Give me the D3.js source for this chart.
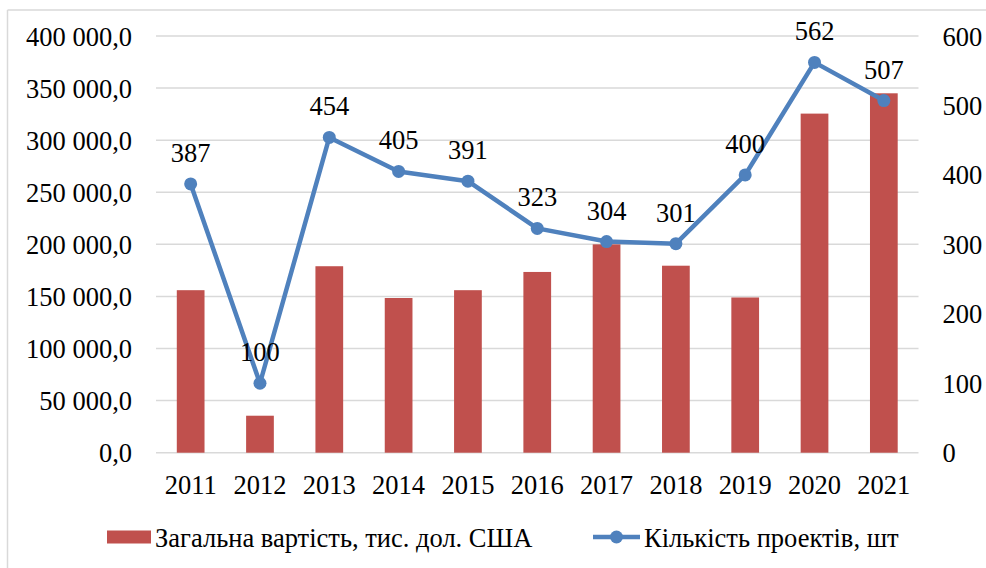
<!DOCTYPE html>
<html>
<head>
<meta charset="utf-8">
<script src="https://cdn.jsdelivr.net/npm/d3@7"></script>
<style>
  body { margin: 0; background: #fff; }
</style>
</head>
<body>
<script>
var years = ["2011", "2012", "2013", "2014", "2015", "2016", "2017", "2018", "2019", "2020", "2021"];
var totalCost = [156000, 35500, 179000, 148500, 156000, 173500, 200000, 179500, 149000, 325500, 345000];
var projects = [387, 100, 454, 405, 391, 323, 304, 301, 400, 562, 507];
var leftTicks = [0, 50000, 100000, 150000, 200000, 250000, 300000, 350000, 400000];
var rightTicks = [0, 100, 200, 300, 400, 500, 600];
var barName = "Загальна вартість, тис. дол. США";
var lineName = "Кількість проектів, шт";

var width = 986, height = 568;
var fontSize = 26.5;
var barColor = "#C0504D", lineColor = "#4F81BD", gridColor = "#D9D9D9";

var svg = d3.select("body").append("svg")
  .attr("width", width)
  .attr("height", height)
  .attr("font-family", "Liberation Serif")
  .attr("font-size", fontSize);

// chart frame (only top and left edges visible)
svg.append("line").attr("x1", 7.5).attr("x2", width).attr("y1", 10).attr("y2", 10)
  .attr("stroke", gridColor).attr("stroke-width", 1.5);
svg.append("line").attr("x1", 7.5).attr("x2", 7.5).attr("y1", 10).attr("y2", height)
  .attr("stroke", gridColor).attr("stroke-width", 1.5);

var plot = { left: 156, right: 918.5, top: 36, bottom: 452.7 };

var x = d3.scaleBand()
  .domain(years)
  .range([plot.left, plot.right])
  .paddingInner(0.6)
  .paddingOuter(0.3);

var yLeft = d3.scaleLinear().domain([0, 400000]).range([plot.bottom, plot.top]);
var yRight = d3.scaleLinear().domain([0, 600]).range([plot.bottom, plot.top]);

var fmt = function (v) {
  return d3.format(",.1f")(v).replace(/,/g, " ").replace(".", ",");
};

// gridlines
svg.append("g")
  .selectAll("line")
  .data(leftTicks)
  .enter()
  .append("line")
  .attr("x1", plot.left).attr("x2", plot.right)
  .attr("y1", d => yLeft(d)).attr("y2", d => yLeft(d))
  .attr("stroke", gridColor)
  .attr("stroke-width", 1.5);

// axes: drop d3's own font settings so the svg ones apply
function clean(g) {
  g.attr("font-family", null).attr("font-size", null);
  g.select(".domain").remove();
}

var leftAxis = svg.append("g")
  .attr("transform", "translate(" + (plot.left - 24) + ",0)")
  .call(d3.axisLeft(yLeft).tickValues(leftTicks).tickFormat(fmt).tickSize(0).tickPadding(0))
  .call(clean);
leftAxis.selectAll("text").attr("dy", "0.34em");

var rightAxis = svg.append("g")
  .attr("transform", "translate(" + (plot.right + 24) + ",0)")
  .call(d3.axisRight(yRight).tickValues(rightTicks).tickFormat(d3.format("d")).tickSize(0).tickPadding(0))
  .call(clean);
rightAxis.selectAll("text").attr("dy", "0.34em");

var bottomAxis = svg.append("g")
  .attr("transform", "translate(0," + plot.bottom + ")")
  .call(d3.axisBottom(x).tickSize(0).tickPadding(0))
  .call(clean);
bottomAxis.selectAll("text").attr("dy", null).attr("y", 41);

// bars
svg.append("g")
  .selectAll("rect")
  .data(totalCost)
  .enter()
  .append("rect")
  .attr("x", (d, i) => x(years[i]))
  .attr("width", x.bandwidth())
  .attr("y", d => yLeft(d))
  .attr("height", d => plot.bottom - yLeft(d))
  .attr("fill", barColor);

// line
var cx = (d, i) => x(years[i]) + x.bandwidth() / 2;
var line = d3.line()
  .x((d, i) => cx(d, i))
  .y(d => yRight(d));

svg.append("path")
  .datum(projects)
  .attr("d", line)
  .attr("fill", "none")
  .attr("stroke", lineColor)
  .attr("stroke-width", 4.5)
  .attr("stroke-linejoin", "round");

svg.append("g")
  .selectAll("circle")
  .data(projects)
  .enter()
  .append("circle")
  .attr("cx", cx)
  .attr("cy", d => yRight(d))
  .attr("r", 6.5)
  .attr("fill", lineColor);

svg.append("g")
  .selectAll("text")
  .data(projects)
  .enter()
  .append("text")
  .attr("x", cx)
  .attr("y", d => yRight(d) - 22)
  .attr("text-anchor", "middle")
  .text(d => d);

// legend
var legend = svg.append("g");
legend.append("rect")
  .attr("x", 107).attr("y", 530.5)
  .attr("width", 44).attr("height", 13)
  .attr("fill", barColor);
legend.append("text")
  .attr("x", 155).attr("y", 547)
  .text(barName);

legend.append("line")
  .attr("x1", 593).attr("x2", 640)
  .attr("y1", 537).attr("y2", 537)
  .attr("stroke", lineColor).attr("stroke-width", 4.5);
legend.append("circle")
  .attr("cx", 616.5).attr("cy", 537).attr("r", 6.5)
  .attr("fill", lineColor);
legend.append("text")
  .attr("x", 644).attr("y", 547)
  .text(lineName);

svg.selectAll("text").attr("fill", "#000");
</script>
</body>
</html>
